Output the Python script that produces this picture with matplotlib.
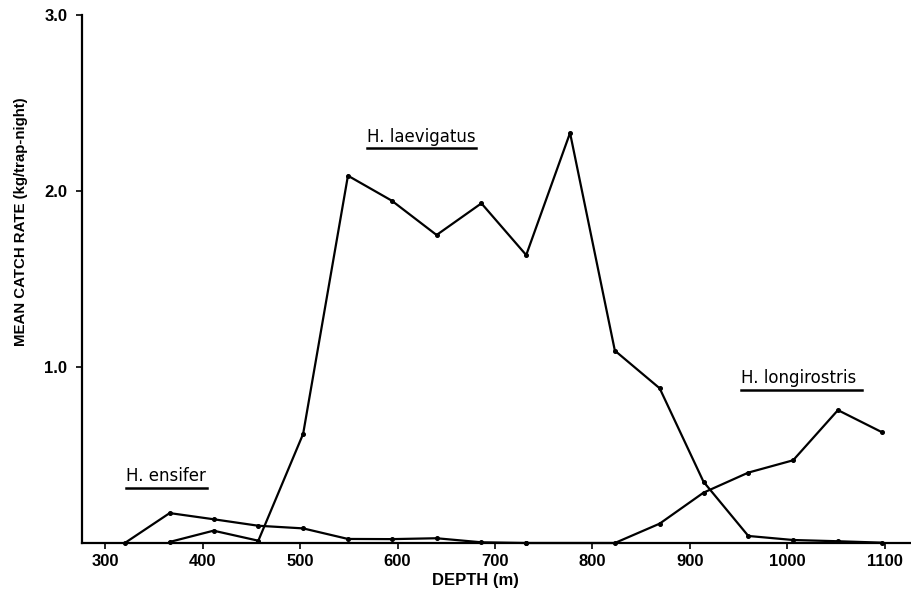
import matplotlib
matplotlib.use("Agg")
from matplotlib import pyplot as plt
from matplotlib.ticker import FormatStrFormatter

# depth stations (25 fathom steps, in m) and mean catch rate per species
ensifer_depth = [320, 366, 411, 457, 503, 549, 594, 640, 686, 732]
ensifer_rate = [0.0, 0.17, 0.135, 0.098, 0.083, 0.023, 0.022, 0.027, 0.004, 0.0]

laevigatus_depth = [366, 411, 457, 503, 549, 594, 640, 686, 732, 777, 823, 869, 914, 960, 1006, 1052, 1097]
laevigatus_rate = [0.006, 0.07, 0.013, 0.62, 2.087, 1.945, 1.75, 1.93, 1.636, 2.33, 1.093, 0.879, 0.348, 0.04, 0.017, 0.01, 0.002]

longirostris_depth = [732, 823, 869, 914, 960, 1006, 1052, 1097]
longirostris_rate = [0.0, 0.0, 0.11, 0.286, 0.40, 0.47, 0.755, 0.63]

x_ticks = [300, 400, 500, 600, 700, 800, 900, 1000, 1100]
y_ticks = [1.0, 2.0, 3.0]

# species label: (name, x, y, underline y, underline end)
labels = [("H. ensifer", 321, 0.38, 0.312, 404),
          ("H. laevigatus", 569, 2.305, 2.244, 680),
          ("H. longirostris", 953, 0.935, 0.869, 1077)]

fig = plt.figure(figsize=(9.11, 5.93), dpi=100)
ax = fig.add_axes([82 / 911, 50 / 593, 1 - 82 / 911, 528 / 593])

for d, r in [(ensifer_depth, ensifer_rate), (laevigatus_depth, laevigatus_rate),
             (longirostris_depth, longirostris_rate)]:
	ax.plot(d, r, color="black", lw=1.6, marker="o", ms=2.6, clip_on=False, zorder=3)

for name, x, y, uy, x1 in labels:
	ax.text(x, y, name, fontsize=12, family="DejaVu Sans", va="center", ha="left")
	ax.plot([x, x1], [uy, uy], color="black", lw=1.8)

ax.set_xlim(276, 1127)
ax.set_ylim(0, 3.0)
ax.set_xticks(x_ticks)
ax.set_yticks(y_ticks)
ax.yaxis.set_major_formatter(FormatStrFormatter("%.1f"))

for s in ["top", "right"]:
	ax.spines[s].set_visible(False)
for s in ["left", "bottom"]:
	ax.spines[s].set_linewidth(1.6)

for lab in ax.get_xticklabels() + ax.get_yticklabels():
	lab.set_family("Liberation Sans")
	lab.set_fontweight("bold")
	lab.set_fontsize(12)
ax.tick_params(axis="x", length=4, width=1.2, pad=4)
ax.tick_params(axis="y", length=4, width=1.2, pad=6.5)

fig.text(475 / 911, 1 - 580 / 593, "DEPTH (m)", family="Liberation Sans", fontweight="bold",
         fontsize=12, ha="center", va="center")
fig.text(21 / 911, 1 - 222 / 593, "MEAN CATCH RATE (kg/trap-night)", family="Liberation Sans",
         fontweight="bold", fontsize=10.8, rotation=90, ha="center", va="center")

fig.savefig("out.png", dpi=100)
